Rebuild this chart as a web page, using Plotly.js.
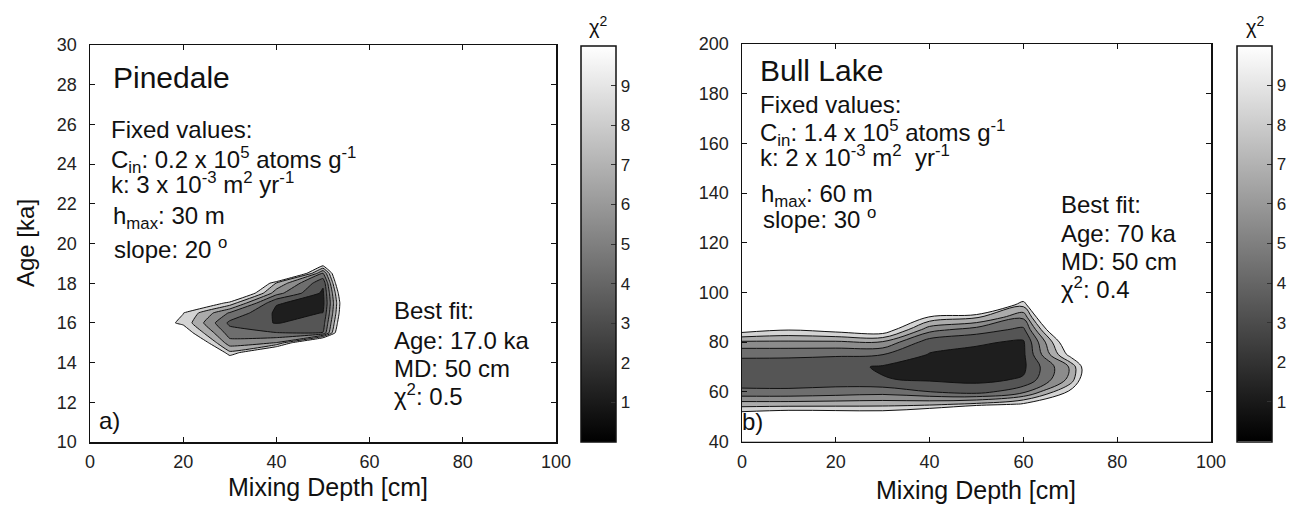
<!DOCTYPE html>
<html><head><meta charset="utf-8">
<script src="https://cdn.plot.ly/plotly-3.0.1.min.js"></script>
<style>html,body{margin:0;padding:0;background:#fff}#chart{width:1296px;height:506px}</style>
</head><body><div id="chart"></div>
<script>
// ---------- data ----------
const pineDepth = [0, 10, 20, 30, 40, 50, 60, 100];            // Mixing depth [cm]
const pineAge   = [10, 13, 13.5, 14, 14.5, 15, 15.5, 16, 16.5, 17, 17.5, 18, 18.5, 19, 19.5, 20, 30]; // Age [ka]
const pineChi2  = [
  [30, 30, 30,   30,   30,   30,   30, 30],
  [30, 30, 30,   30,   30,   30,   30, 30],
  [30, 30, 30,   20,   25,   30,   30, 30],
  [30, 30, 25,   12,   18,   30,   30, 30],
  [30, 25, 20,   7.8,  13.8, 25,   30, 30],
  [30, 20, 14,   4.8,  5.85, 15.4, 30, 30],
  [30, 14, 10.5, 3.4,  2.65, 2.65, 27, 30],
  [30, 11, 8.6,  2.2,  0.9,  1.8,  25, 30],
  [30, 13, 9.05, 4.0,  0.7,  1.02, 24, 30],
  [30, 20, 13,   8.4,  1.1,  0.5,  24, 30],
  [30, 25, 20,   14,   4.85, 0.7,  26, 30],
  [30, 30, 25,   20,   7.2,  1.3,  30, 30],
  [30, 30, 30,   25,   18.5, 4.0,  30, 30],
  [30, 30, 30,   30,   25,   10.6, 30, 30],
  [30, 30, 30,   30,   28,   20,   30, 30],
  [30, 30, 30,   30,   30,   30,   30, 30],
  [30, 30, 30,   30,   30,   30,   30, 30]
];

const bullDepth = [0, 10, 20, 30, 40, 50, 60, 70, 80, 100];
const bullAge   = [40, 45, 50, 55, 60, 65, 70, 75, 80, 85, 90, 95, 100, 200];
const bullChi2  = [
  [30,   30,   30,   30,   30,   30,  30,   30,   30,   30],
  [20,   20,   20,   20,   20,   25,  25,   30,   30,   30],
  [10.6, 11.5, 11.2, 11,   13,   20,  20,   20,   30,   30],
  [6.6,  6.6,  6.7,  6.8,  7.0,  7.8, 9.3,  15,   25,   30],
  [2.9,  2.9,  3.2,  3.5,  2.62, 1.9, 3.8,  9.4,  22,   30],
  [1.9,  1.8,  1.7,  1.1,  0.75, 0.6, 1.15, 6.3,  19.8, 30],
  [1.9,  1.8,  1.55, 0.8,  0.6,  0.4, 0.7,  6.0,  18.5, 30],
  [2.9,  2.9,  2.8,  2.62, 0.9,  0.6, 0.7,  9.7,  22,   30],
  [5.5,  5.5,  5.5,  5.6,  1.7,  1.2, 0.8,  11.5, 25,   30],
  [10,   9.1,  9.8,  10.5, 4.8,  3.4, 2.2,  15.9, 30,   30],
  [20,   20,   20,   20,   8.6,  7.6, 4.5,  20.6, 30,   30],
  [25,   25,   25,   25,   16,   14,  7.9,  23.6, 30,   30],
  [30,   30,   30,   30,   25,   25,  12,   30,   30,   30],
  [30,   30,   30,   30,   30,   30,  30,   30,   30,   30]
];

const depthTicks = [0, 20, 40, 60, 80, 100];
const pineAgeTicks = [10, 12, 14, 16, 18, 20, 22, 24, 26, 28, 30];
const bullAgeTicks = [40, 60, 80, 100, 120, 140, 160, 180, 200];
const chi2Ticks = [1, 2, 3, 4, 5, 6, 7, 8, 9];

const pineText = {
  title: 'Pinedale',
  lines: ['Fixed values:', 'C<sub>in</sub>: 0.2 x 10<sup>5</sup> atoms g<sup>-1</sup>',
          'k: 3 x 10<sup>-3</sup> m<sup>2</sup> yr<sup>-1</sup>', 'h<sub>max</sub>: 30 m', 'slope: 20 <sup>o</sup>'],
  best: ['Best fit:', 'Age: 17.0 ka', 'MD: 50 cm', '&#967;<sup>2</sup>: 0.5'],
  tag: 'a)'
};
const bullText = {
  title: 'Bull Lake',
  lines: ['Fixed values:', 'C<sub>in</sub>: 1.4 x 10<sup>5</sup> atoms g<sup>-1</sup>',
          'k: 2 x 10<sup>-3</sup> m<sup>2</sup>&nbsp; yr<sup>-1</sup>', 'h<sub>max</sub>: 60 m', 'slope: 30 <sup>o</sup>'],
  best: ['Best fit:', 'Age: 70 ka', 'MD: 50 cm', '&#967;<sup>2</sup>: 0.4'],
  tag: 'b)'
};

// ---------- styling ----------
const W = 1296, H = 506;
const FONT = 'Liberation Sans, Arial, Helvetica, sans-serif';
const INK = '#111111';
const px = v => v / W;
const py = v => 1 - v / H;

const bandScale = [[0, '#1e1e1e'], [1/6, '#555555'], [2/6, '#6e6e6e'], [3/6, '#8c8c8c'],
                   [4/6, '#ababab'], [5/6, '#d4d4d4'], [1, '#ffffff']];
const grayScale = [[0, '#000000'], [1, '#ffffff']];

function contourTrace(x, y, z, xa, ya, smooth) {
  return {
    type: 'contour', x: x, y: y, z: z, xaxis: xa, yaxis: ya,
    autocontour: false, contours: {start: 1, end: 9, size: 1.6, coloring: 'fill', showlines: true},
    colorscale: bandScale, showscale: false, hoverinfo: 'skip',
    line: {color: INK, width: 1, smoothing: smooth}
  };
}
function barTrace(xa, ya, xLeft, yBottom, len) {
  return {
    type: 'scatter', mode: 'markers', x: [null], y: [null], xaxis: xa, yaxis: ya, hoverinfo: 'skip',
    marker: {color: [0], cmin: 0, cmax: 10, colorscale: grayScale, showscale: true,
      colorbar: {x: px(xLeft), xanchor: 'left', xpad: 0, ypad: 0, y: py(yBottom), yanchor: 'bottom',
        len: len, lenmode: 'pixels', thickness: 35, thicknessmode: 'pixels',
        outlinewidth: 1.5, outlinecolor: INK, tickvals: chi2Ticks, ticks: 'inside', ticklen: 5,
        tickcolor: '#333', tickwidth: 1, tickfont: {family: FONT, size: 17, color: '#222'}}}
  };
}

const data = [
  contourTrace(pineDepth, pineAge, pineChi2, 'x', 'y', 0.3),
  contourTrace(bullDepth, bullAge, bullChi2, 'x2', 'y2', 1.0),
  barTrace('x', 'y', 581, 442, 396),
  barTrace('x2', 'y2', 1237, 441.5, 396)
];

function axis(domain, range, tickvals, anchor, standoff) {
  return {domain: domain, range: range, tickvals: tickvals, anchor: anchor,
    ticks: 'inside', ticklen: 5, tickwidth: 1, tickcolor: INK, mirror: 'ticks',
    showline: true, linecolor: INK, linewidth: 1.5, showgrid: false, zeroline: false,
    ticklabelstandoff: standoff,
    tickfont: {family: FONT, size: 18, color: '#222'}, fixedrange: true};
}

const ann = [];
function txt(text, x, y, size, extra) {
  ann.push(Object.assign({text: text, xref: 'paper', yref: 'paper', x: px(x), y: py(y),
    xanchor: 'left', yanchor: 'middle', showarrow: false, borderpad: 0, borderwidth: 0,
    font: {family: FONT, size: size, color: INK}}, extra || {}));
}
// Pinedale block
txt(pineText.title, 113, 77.3, 30);
txt(pineText.lines[0], 111, 129.7, 24);
txt(pineText.lines[1], 111, 159.5, 24);
txt(pineText.lines[2], 111, 183, 24);
txt(pineText.lines[3], 113, 217.7, 24);
txt(pineText.lines[4], 114, 248.2, 24);
txt(pineText.best[0], 394, 310, 24);
txt(pineText.best[1], 394, 340, 24);
txt(pineText.best[2], 394, 368.4, 24);
txt(pineText.best[3], 394, 395, 24);
txt(pineText.tag, 99, 420, 24);
// Bull Lake block
txt(bullText.title, 760, 70.3, 30);
txt(bullText.lines[0], 760, 104.4, 24);
txt(bullText.lines[1], 760, 133.2, 24);
txt(bullText.lines[2], 760, 156.2, 24);
txt(bullText.lines[3], 761, 195.4, 24);
txt(bullText.lines[4], 763, 218, 24);
txt(bullText.best[0], 1061, 204.7, 24);
txt(bullText.best[1], 1061, 233.4, 24);
txt(bullText.best[2], 1061, 261.7, 24);
txt(bullText.best[3], 1061, 288.2, 24);
txt(bullText.tag, 742, 421.7, 24);
// colorbar titles
txt('&#967;<sup>2</sup>', 598, 25, 20, {xanchor: 'center'});
txt('&#967;<sup>2</sup>', 1255, 25, 20, {xanchor: 'center'});
// axis titles
txt('Mixing Depth [cm]', 328, 487, 25, {xanchor: 'center'});
txt('Mixing Depth [cm]', 976, 490, 25, {xanchor: 'center'});
txt('Age [ka]', 25, 243, 24, {xanchor: 'center', textangle: -90});

const layout = {
  width: W, height: H, margin: {l: 0, r: 0, t: 0, b: 0},
  paper_bgcolor: '#ffffff', plot_bgcolor: '#ffffff', showlegend: false,
  font: {family: FONT, color: INK, size: 18},
  xaxis:  axis([px(90), px(556)], [0, 100], depthTicks, 'y', 3),
  yaxis:  axis([py(442), py(45)], [10, 30], pineAgeTicks, 'x', 8),
  xaxis2: axis([px(742), px(1211)], [0, 100], depthTicks, 'y2', 3),
  yaxis2: axis([py(441.5), py(44)], [40, 200], bullAgeTicks, 'x2', 8),
  annotations: ann
};

Plotly.newPlot('chart', data, layout, {displayModeBar: false, staticPlot: true});
</script></body></html>
